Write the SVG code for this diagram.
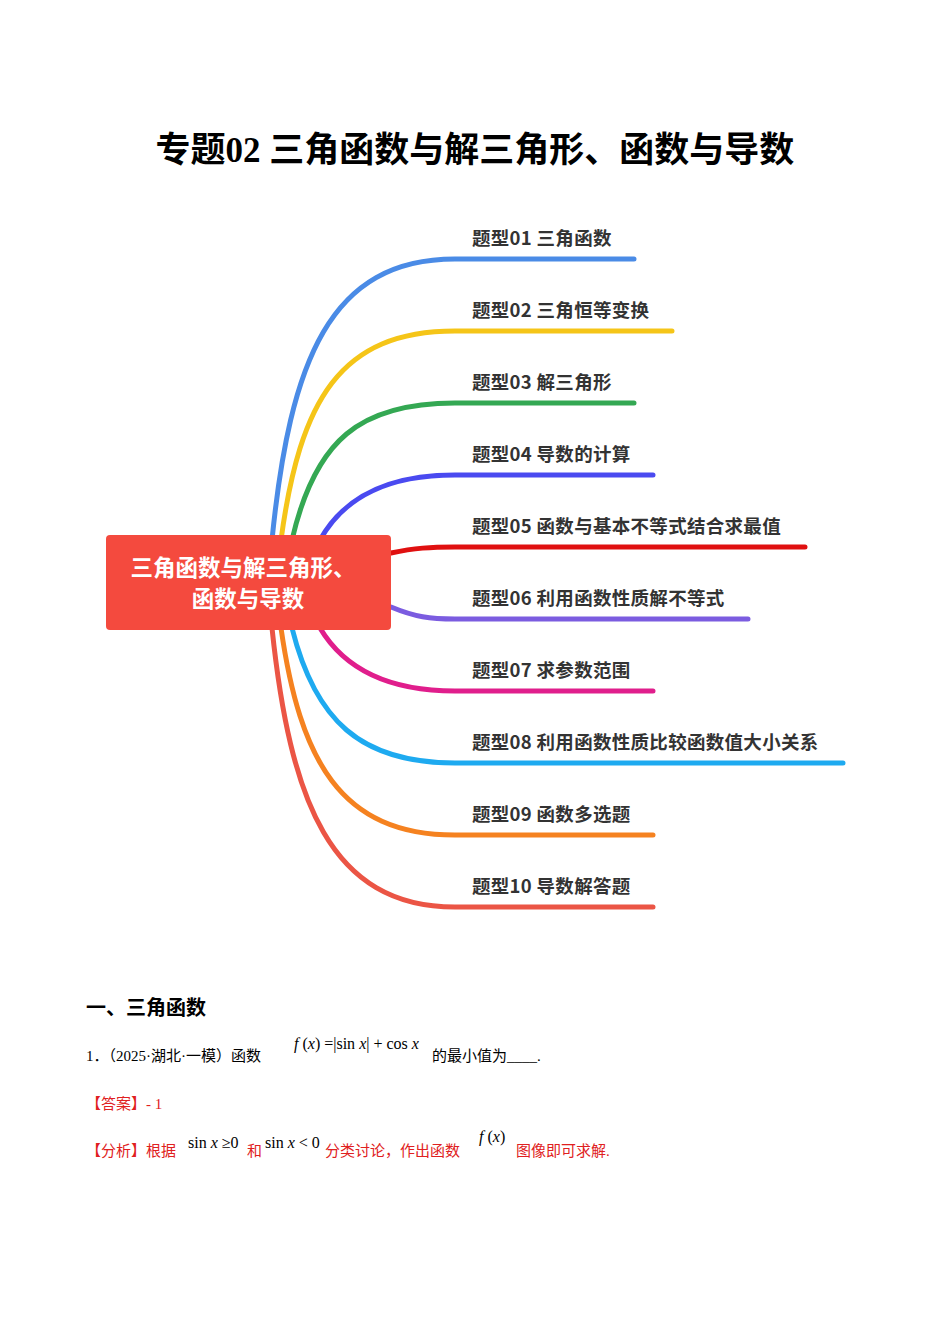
<svg xmlns="http://www.w3.org/2000/svg" width="950" height="1344" viewBox="0 0 950 1344">
<style>
.lb{font-family:"Noto Sans CJK SC","Noto Sans",sans-serif;font-weight:bold;font-size:18.5px;fill:#333;letter-spacing:0.3px}
.br{fill:none;stroke-linecap:round}
.t{font-family:"Liberation Serif","Noto Sans CJK SC",serif;font-size:15px;fill:#000}
.r{fill:#e02020}
.m{font-family:"Liberation Serif",serif;font-size:16px}
</style>
<rect width="950" height="1344" fill="#fff"/>
<text x="475" y="162" text-anchor="middle" font-family="Liberation Serif,'Noto Sans CJK SC',serif" font-weight="bold" font-size="35">专题02 三角函数与解三角形、函数与导数</text>
<g id="connectors">
<path class="br" stroke="#4a8be6" stroke-width="5" d="M272 540 C290 360 330 259 455 259 H634"/>
<path class="br" stroke="#f5c518" stroke-width="5" d="M281 540 C300 400 340 331 455 331 H672"/>
<path class="br" stroke="#34a853" stroke-width="5" d="M292 540 C315 440 360 403 455 403 H634"/>
<path class="br" stroke="#4a4af0" stroke-width="5" d="M320 540 C345 495 390 475 455 475 H653"/>
<path class="br" stroke="#e01010" stroke-width="5" d="M391 553 C415 548 430 547 455 547 H805"/>
<path class="br" stroke="#7b5ce0" stroke-width="5" d="M391 607 C415 617 430 619 455 619 H748"/>
<path class="br" stroke="#e01e8c" stroke-width="5" d="M320 628 C345 670 390 691 455 691 H653"/>
<path class="br" stroke="#1eaaf0" stroke-width="5" d="M292 628 C315 720 360 763 455 763 H843"/>
<path class="br" stroke="#f58220" stroke-width="5" d="M281 628 C300 760 340 835 455 835 H653"/>
<path class="br" stroke="#eb5545" stroke-width="5" d="M272 628 C290 800 330 907 455 907 H653"/>
</g>
<g id="center">
<rect x="106" y="535" width="285" height="95" rx="4" fill="#f44a3e"/>
<text x="243" y="576" text-anchor="middle" font-family="'Noto Sans CJK SC',sans-serif" font-weight="bold" font-size="22.5" fill="#fff">三角函数与解三角形、</text>
<text x="248" y="607" text-anchor="middle" font-family="'Noto Sans CJK SC',sans-serif" font-weight="bold" font-size="22.5" fill="#fff">函数与导数</text>
</g>
<g id="n1"><text class="lb" x="472" y="245">题型01 三角函数</text></g>
<g id="n2"><text class="lb" x="472" y="317">题型02 三角恒等变换</text></g>
<g id="n3"><text class="lb" x="472" y="389">题型03 解三角形</text></g>
<g id="n4"><text class="lb" x="472" y="461">题型04 导数的计算</text></g>
<g id="n5"><text class="lb" x="472" y="533">题型05 函数与基本不等式结合求最值</text></g>
<g id="n6"><text class="lb" x="472" y="605">题型06 利用函数性质解不等式</text></g>
<g id="n7"><text class="lb" x="472" y="677">题型07 求参数范围</text></g>
<g id="n8"><text class="lb" x="472" y="749">题型08 利用函数性质比较函数值大小关系</text></g>
<g id="n9"><text class="lb" x="472" y="821">题型09 函数多选题</text></g>
<g id="n10"><text class="lb" x="472" y="893">题型10 导数解答题</text></g>
<text x="86" y="1015" font-family="'Noto Sans CJK SC',sans-serif" font-weight="bold" font-size="20">一、三角函数</text>
<text class="t" x="86" y="1061">1．（2025·湖北·一模）函数</text>
<text class="m" x="294" y="1049"><tspan font-style="italic">f</tspan> (<tspan font-style="italic">x</tspan>) =|sin <tspan font-style="italic">x</tspan>| + cos <tspan font-style="italic">x</tspan></text>
<text class="t" x="432" y="1061">的最小值为____.</text>
<text class="t r" x="86" y="1109">【答案】- 1</text>
<text class="t r" x="86" y="1156">【分析】根据</text>
<text class="m" x="188" y="1148">sin <tspan font-style="italic">x</tspan> ≥0</text>
<text class="t r" x="247" y="1156">和</text>
<text class="m" x="265" y="1148">sin <tspan font-style="italic">x</tspan> &lt; 0</text>
<text class="t r" x="325" y="1156">分类讨论，作出函数</text>
<text class="m" x="479" y="1142"><tspan font-style="italic">f</tspan> (<tspan font-style="italic">x</tspan>)</text>
<text class="t r" x="516" y="1156">图像即可求解.</text>
</svg>
